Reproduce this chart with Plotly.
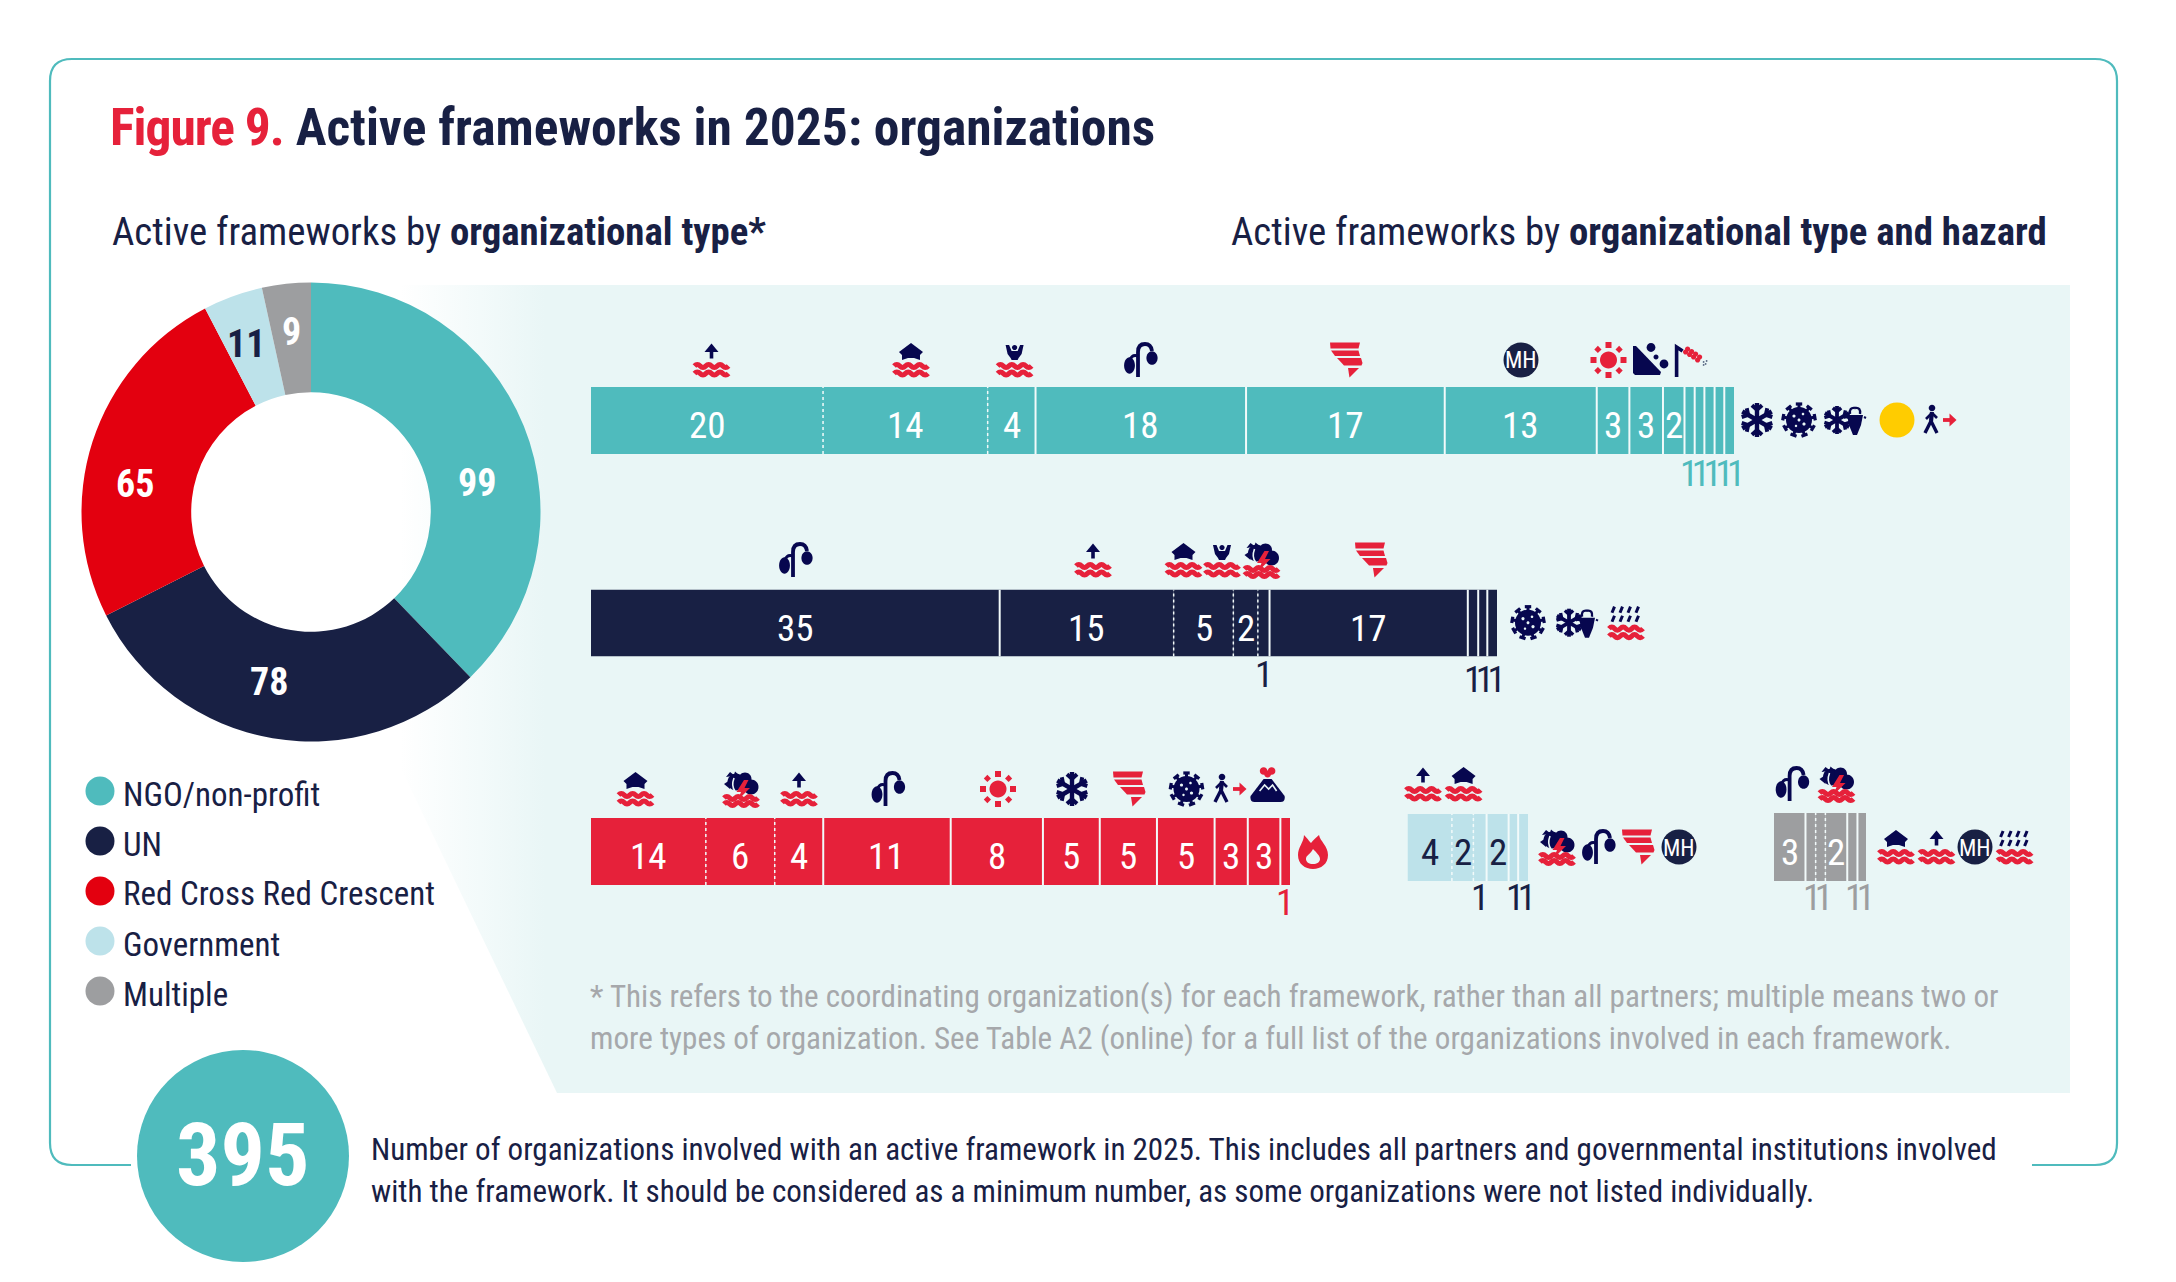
import base64, math, re
import plotly.graph_objects as go

# ---------- data ----------
org_types = ["NGO/non-profit", "UN", "Red Cross Red Crescent", "Government", "Multiple"]
org_counts = [99, 78, 65, 11, 9]
total_orgs = "395"

# numbers printed on the segments
ngo_values = [20, 14, 4, 18, 17, 13, 3, 3, 2, 1, 1, 1, 1, 1]
un_values = [35, 15, 5, 2, 1, 17, 1, 1, 1]
rc_values = [14, 6, 4, 11, 8, 5, 5, 5, 3, 3, 1]
gov_values = [4, 2, 1, 2, 1, 1]
mult_values = [3, 1, 1, 2, 1, 1]

# drawn lengths of the segments
ngo_lengths = [19.83, 14.07, 4.09, 17.99, 16.98, 12.99, 2.79, 2.87, 1.84, 0.87, 0.83, 0.87, 0.83, 0.83]
un_lengths = [35.0, 14.9, 5.11, 2.1, 1.0, 16.98, 0.89, 0.78, 0.83]
rc_lengths = [9.9, 5.94, 4.18, 10.99, 7.95, 4.9, 4.93, 4.97, 2.86, 2.81, 0.83]
gov_lengths = [3.83, 1.85, 1.14, 1.9, 0.82, 0.85]
mult_lengths = [2.72, 0.88, 0.84, 1.89, 0.88, 0.74]

# ---------- style / layout ----------
W, H = 2176, 1282
FONT = "Roboto Condensed, Roboto, sans-serif"
TEAL, NAVY, RED, PIE_RED, LBLUE, GREY = "#4FBBBD", "#182044", "#E6213A", "#E3000F", "#BDE2EA", "#9D9EA0"
ICON = "#07074F"
PANEL = "#E9F6F6"
pie_colors = [TEAL, NAVY, PIE_RED, LBLUE, GREY]


def px(x):
    return x / W


def py(y):
    return 1 - y / H


S, D = "solid", "dot"
rows = [
    dict(val=ngo_values, seg=ngo_lengths, col=TEAL, tc="white", l=591, r=1734, t=387, b=454,
         sep=[D, D, S, S, S, S, S, S, S, S, S, S, S],
         below=[("11111", 9, 14, 473, TEAL)]),
    dict(val=un_values, seg=un_lengths, col=NAVY, tc="white", l=591, r=1497, t=589.5, b=656.5,
         sep=[S, D, D, D, S, S, S, S],
         below=[("1", 4, 5, 674, NAVY), ("111", 6, 9, 679, NAVY)]),
    dict(val=rc_values, seg=rc_lengths, col=RED, tc="white", l=591, r=1290, t=818, b=885,
         sep=[D, D, S, S, S, S, S, S, S, S],
         below=[("1", 10, 11, 902, RED)]),
    dict(val=gov_values, seg=gov_lengths, col=LBLUE, tc=NAVY, l=1407.5, r=1528, t=814, b=881,
         sep=[D, D, S, S, S],
         below=[("1", 2, 3, 897, NAVY), ("11", 4, 6, 897, NAVY)]),
    dict(val=mult_values, seg=mult_lengths, col=GREY, tc="white", l=1774, r=1866, t=813, b=881,
         sep=[S, D, D, S, S],
         below=[("11", 1, 3, 897, GREY), ("11", 4, 6, 897, GREY)]),
]

fig = go.Figure()
layout_axes = {}
shapes, annos = [], []


def note(x, y, text, size, color=NAVY, xanchor="left"):
    annos.append(dict(x=px(x), y=py(y), xref="paper", yref="paper", text=text, showarrow=False,
                      xanchor=xanchor, yanchor="middle", borderpad=0, borderwidth=0,
                      font=dict(family=FONT, size=size, color=color)))


# donut
fig.add_trace(go.Pie(values=org_counts, labels=org_types, sort=False, direction="clockwise", rotation=0,
                     hole=0.522, textinfo="none", showlegend=False, marker=dict(colors=pie_colors),
                     domain=dict(x=[px(81.5), px(540.5)], y=[py(741.5), py(282.5)])))

# stacked rows, each on its own scale
for i, r in enumerate(rows, start=1):
    total = sum(r["seg"])
    cum = [sum(r["seg"][:k]) for k in range(len(r["seg"]) + 1)]
    sfx = "" if i == 1 else str(i)
    layout_axes[f"xaxis{sfx}"] = dict(domain=[px(r["l"]), px(r["r"])], range=[0, total], visible=False,
                                      fixedrange=True, anchor=f"y{sfx}")
    layout_axes[f"yaxis{sfx}"] = dict(domain=[py(r["b"]), py(r["t"])], range=[-0.5, 0.5], visible=False,
                                      fixedrange=True, anchor=f"x{sfx}")
    fig.add_trace(go.Bar(x=r["seg"], base=cum[:-1], y=[0] * len(r["seg"]), orientation="h", width=1,
                         xaxis=f"x{sfx}", yaxis=f"y{sfx}", customdata=r["val"],
                         marker=dict(color=r["col"], line=dict(width=0)), showlegend=False))
    ymid = (r["t"] + r["b"]) / 2 + 5
    for k, v in enumerate(r["val"]):
        if v >= 2:
            annos.append(dict(x=(cum[k] + cum[k + 1]) / 2, y=py(ymid), xref=f"x{sfx}", yref="paper", text=str(v),
                              showarrow=False, xanchor="center", yanchor="middle", borderpad=0,
                              font=dict(family=FONT, size=37, color=r["tc"])))
    for k, kind in enumerate(r["sep"], start=1):
        shapes.append(dict(type="line", xref=f"x{sfx}", yref=f"y{sfx}", x0=cum[k], x1=cum[k], y0=-0.5, y1=0.5,
                           line=dict(color="#F2FAFA", width=2 if kind == S else 1.5, dash=kind), layer="above"))
    for txt, a, b, y, c in r["below"]:
        label = txt if len(txt) == 1 else f'<span style="letter-spacing:-6.5px">{txt}</span>'
        annos.append(dict(x=(cum[a] + cum[b]) / 2, y=py(y), xref=f"x{sfx}", yref="paper", text=label, showarrow=False,
                          xanchor="center", yanchor="middle", borderpad=0,
                          font=dict(family=FONT, size=37, color=c)))

# ---------- decoration: panel + frame ----------
svg = (f'<svg xmlns="http://www.w3.org/2000/svg" width="{W}" height="{H}" viewBox="0 0 {W} {H}">'
       f'<defs><linearGradient id="g" gradientUnits="userSpaceOnUse" x1="400" y1="0" x2="545" y2="0">'
       f'<stop offset="0" stop-color="{PANEL}" stop-opacity="0"/><stop offset="1" stop-color="{PANEL}"/>'
       f'</linearGradient></defs><polygon points="380,285 2070,285 2070,1093 557,1093 380,725" fill="url(#g)"/></svg>')
images = [dict(source="data:image/svg+xml;base64," + base64.b64encode(svg.encode()).decode(),
               xref="paper", yref="paper", x=0, y=1, sizex=1, sizey=1, xanchor="left", yanchor="top",
               sizing="stretch", layer="below")]

NUM = re.compile(r"-?\d+\.?\d*")


def to_paper(path, cx=0.0, cy=0.0, scale=1.0):
    n = [0]

    def sub(m):
        v = float(m.group())
        idx = n[0]
        n[0] += 1
        if idx % 2 == 0:
            return f"{px(cx + v * scale):.5f}"
        return f"{py(cy + v * scale):.5f}"

    return NUM.sub(sub, path)


frame = "M131,1165 L72,1165 Q50,1165 50,1143 L50,81 Q50,59 72,59 L2095,59 Q2117,59 2117,81 L2117,1143 Q2117,1165 2095,1165 L2032,1165"
shapes.append(dict(type="path", xref="paper", yref="paper", path=to_paper(frame), line=dict(color=TEAL, width=2.2),
                   fillcolor="rgba(0,0,0,0)", layer="below"))


def circ(cx, cy, r):
    k = 0.5523 * r
    return (f"M{cx - r},{cy} C{cx - r},{cy - k} {cx - k},{cy - r} {cx},{cy - r} C{cx + k},{cy - r} {cx + r},{cy - k} {cx + r},{cy} "
            f"C{cx + r},{cy + k} {cx + k},{cy + r} {cx},{cy + r} C{cx - k},{cy + r} {cx - r},{cy + k} {cx - r},{cy} Z")


def ell(cx, cy, rx, ry):
    k = 0.5523
    return (f"M{cx - rx},{cy} C{cx - rx},{cy - k * ry} {cx - k * rx},{cy - ry} {cx},{cy - ry} C{cx + k * rx},{cy - ry} {cx + rx},{cy - k * ry} {cx + rx},{cy} "
            f"C{cx + rx},{cy + k * ry} {cx + k * rx},{cy + ry} {cx},{cy + ry} C{cx - k * rx},{cy + ry} {cx - rx},{cy + k * ry} {cx - rx},{cy} Z")


def fill(path, color=ICON):
    return dict(path=path, fill=color, line=None, lw=0)


def stroke(path, color=ICON, lw=3):
    return dict(path=path, fill=None, line=color, lw=lw)


def wave(y):
    return stroke(f"M-17,{y} Q-14.2,{y - 3.2} -11.3,{y} Q-8.5,{y + 3.2} -5.7,{y} Q-2.8,{y - 3.2} 0,{y} "
                  f"Q2.8,{y + 3.2} 5.7,{y} Q8.5,{y - 3.2} 11.3,{y} Q14.2,{y + 3.2} 17,{y}", RED, 5)


def waves():
    return [wave(6), wave(13.5)]


def flake(cx, cy, R, lw):
    out = []
    for a in (90, 30, 150):
        ca, sa = math.cos(math.radians(a)), math.sin(math.radians(a))
        out.append(stroke(f"M{cx - R * ca:.2f},{cy - R * sa:.2f} L{cx + R * ca:.2f},{cy + R * sa:.2f}", ICON, lw))
    for a in range(0, 360, 60):
        ca, sa = math.cos(math.radians(a + 90)), math.sin(math.radians(a + 90))
        mx, my = cx + 0.6 * R * ca, cy + 0.6 * R * sa
        for d in (-48, 48):
            c2, s2 = math.cos(math.radians(a + 90 + d)), math.sin(math.radians(a + 90 + d))
            out.append(stroke(f"M{mx:.2f},{my:.2f} L{mx + 0.4 * R * c2:.2f},{my + 0.4 * R * s2:.2f}", ICON, lw * 0.9))
    return out


def virus():
    out = [fill(circ(0, 0, 13))]
    for a in range(0, 360, 40):
        ca, sa = math.cos(math.radians(a - 90)), math.sin(math.radians(a - 90))
        out.append(stroke(f"M{11 * ca:.2f},{11 * sa:.2f} L{15.5 * ca:.2f},{15.5 * sa:.2f}", ICON, 3))
        out.append(stroke(f"M{16 * ca - 3.2 * sa:.2f},{16 * sa + 3.2 * ca:.2f} L{16 * ca + 3.2 * sa:.2f},{16 * sa - 3.2 * ca:.2f}", ICON, 3.2))
    for dx, dy, rr in [(-5, -4, 1.6), (4, -6, 1.3), (5, 4, 1.6), (-3, 6, 1.2), (0, 0, 1.5)]:
        out.append(fill(circ(dx, dy, rr), PANEL))
    return out


def flood_arrow():
    return [stroke("M0,-1.5 L0,-10", ICON, 3.6), fill("M-7,-8 L0,-16.5 L7,-8 Z")] + waves()


def flood_house():
    return [fill("M0,-17 L12,-8 L9,-5 L9,0 L3,-2 L-3,-2 L-9,0 L-9,-5 L-12,-8 Z")] + waves()


def flood_person():
    return [fill("M-9,-15 L-5.5,-15 L-3,-9 L3,-9 L5.5,-15 L9,-15 L7,-6 L4,-2 L3,0 L-3,0 L-4,-2 L-7,-6 Z"),
            fill(circ(0, -12.5, 2.6))] + waves()


def flood_storm():
    return [fill(circ(-5, -7, 8.5)), fill(circ(4, -10, 6.5)), fill(circ(10, -2, 7.5)),
            fill("M-15,-12 L-11,-17 L-7,-14 L-6,-17.5 L-2,-14 Z"),
            fill("M-17,-5 L-11,-9 L-11,0 Z"),
            stroke("M-7,-11 Q-10,-3 -6,2", PANEL, 1.6),
            wave(9), wave(15),
            fill("M3,-9 L-4.5,3 L0,3 L-3,11 L9,-1 L3.5,-1 L7.5,-9 Z", RED)]


def plant():
    return [stroke("M-2,17 L-2,-8 Q-2,-16 5,-16 Q11,-16 12,-9", ICON, 3.8),
            stroke("M-2,-4 Q-8,-6 -10,0", ICON, 3),
            fill(ell(-10.5, 5.5, 5.4, 8.2)), fill(ell(12, -2, 5.6, 6.8))]


def tornado():
    return [fill("M-16,-17.5 L14,-17.5 L12.5,-11.5 L-15.5,-11.5 Z", RED),
            fill("M-15,-9.5 L12.5,-9.5 L14,-4 L-11,-4 Z", RED),
            fill("M-9,-2 L15,-2 L16.5,3 L15.5,5.5 L-2,5.5 Z", RED),
            fill("M2,8 L13,8 L3.5,17.5 Z", RED)]


def mh():
    return [fill(circ(0, 0, 17.5), NAVY)]


def sun():
    out = [fill(circ(0, 0, 8.5), RED)]
    for a in range(0, 360, 45):
        ca, sa = math.cos(math.radians(a)), math.sin(math.radians(a))
        x, y = 15 * ca, 15 * sa
        s = 3
        if a % 90 == 0:
            out.append(fill(f"M{x - s:.2f},{y - s:.2f} L{x + s:.2f},{y - s:.2f} L{x + s:.2f},{y + s:.2f} L{x - s:.2f},{y + s:.2f} Z", RED))
        else:
            out.append(fill(f"M{x:.2f},{y - 3.6:.2f} L{x + 3.6:.2f},{y:.2f} L{x:.2f},{y + 3.6:.2f} L{x - 3.6:.2f},{y:.2f} Z", RED))
    return out


def landslide():
    return [fill("M-17,-14 L-14,-14 L11,12 L10,15 L-15,15 L-17,13 Z"),
            fill(circ(1, -12.5, 4.4)), fill(circ(14, 4, 4.4)), fill(circ(6, -3, 2.5))]


def locust():
    out = [stroke("M-15,17 L-15,-13 L-9,-9", ICON, 3.6)]
    for dx, dy in [(-6, -8), (-2, -5.5), (2, -3), (6, 0), (-4, -11), (0, -8.5), (4, -6), (8, -3)]:
        out.append(fill(circ(dx, dy, 2.6), RED))
    for dx, dy in [(12, 2), (14, 4), (12, 5), (15, 1)]:
        out.append(fill(circ(dx, dy, 0.9), "#5B6A86"))
    return out


def goat():
    return flake(-9, 0, 14, 3.8) + [
        fill("M1,-5 L17,-5 L15,5 L11,15 L7,15 L3,5 Z"),
        stroke("M4,-6 Q3,-13 9,-12", ICON, 2.4), stroke("M14,-6 Q15,-13 9,-12", ICON, 2.4),
        stroke("M0,-3 L-2,-2", ICON, 2), stroke("M18,-3 L20,-2", ICON, 2)]


def sunball():
    return [fill(circ(0, 0, 17.5), "#FFCC00")]


def walker():
    return [fill(circ(-7, -12, 3.3)),
            stroke("M-7,-8 L-8,1", ICON, 4.2), stroke("M-8,1 L-14,13", ICON, 3.4), stroke("M-8,1 L-2,13", ICON, 3.4),
            stroke("M-7,-7 L-13,-1", ICON, 2.6), stroke("M-7,-7 L-2,-2", ICON, 2.6),
            stroke("M4,0 L12,0", RED, 3.8), fill("M10.5,-6.5 L17.5,0 L10.5,6.5 Z", RED)]


def rain():
    out = []
    for y in (-13, -4):
        for x in (-13, -5, 3, 11):
            out.append(stroke(f"M{x - 1},{y + 3} L{x + 1.5},{y - 3}", ICON, 3))
    return out + waves()


def volcano():
    return [fill(circ(-4, -14, 3.8), RED), fill(circ(4, -14, 3.8), RED), fill(circ(0, -11, 3.5), RED),
            fill("M-4,-6 L4,-6 L17,11 Q18,17 13,17 L-13,17 Q-18,17 -17,11 Z"),
            stroke("M-8,6 L-3,0 L1,4 L5,0 L9,6", PANEL, 1.6)]


def fire():
    return [fill("M-9,-17 C-5,-13 -4,-11 -2,-9 C0,-12 3,-14 6,-17 C7,-11 15,-6 15,3 C15,12 8,17 0,17 C-8,17 -15,12 -15,3 C-15,-5 -9,-10 -9,-17 Z", RED),
            fill("M0,-3 C4,1 7,4 7,7 C7,10 4,12 0,12 C-4,12 -7,10 -7,7 C-7,3 -3,3 0,-3 Z", PANEL)]


ICONS = dict(arrow=flood_arrow, house=flood_house, person=flood_person, storm=flood_storm, plant=plant, tornado=tornado,
             mh=mh, sun=sun, slide=landslide, locust=locust, snow=lambda: flake(0, 0, 17, 4.4), virus=virus, goat=goat,
             ball=sunball, walker=walker, rain=rain, volcano=volcano, fire=fire)

icon_places = [
    ("arrow", 711.5, 360), ("house", 911, 360), ("person", 1014.6, 360), ("plant", 1140, 360), ("tornado", 1346, 360),
    ("mh", 1521, 360), ("sun", 1608.5, 360), ("slide", 1650, 360), ("locust", 1691.6, 360),
    ("snow", 1757, 420), ("virus", 1799, 420), ("goat", 1846, 420), ("ball", 1897, 420), ("walker", 1939, 420),
    ("plant", 795, 560), ("arrow", 1093, 560), ("house", 1183.5, 560), ("person", 1222, 560), ("storm", 1261.5, 560),
    ("tornado", 1371, 560), ("virus", 1528, 622.7), ("goat", 1578, 622.7), ("rain", 1626, 622.7),
    ("house", 635.5, 789), ("storm", 741, 789), ("arrow", 799, 789), ("plant", 887.5, 789), ("sun", 998, 789),
    ("snow", 1072, 789), ("tornado", 1129, 789), ("virus", 1186.5, 789), ("walker", 1229, 789), ("volcano", 1267.6, 785),
    ("fire", 1313, 852),
    ("arrow", 1423, 784), ("house", 1463.6, 784),
    ("storm", 1557, 847), ("plant", 1598, 847), ("tornado", 1638, 847), ("mh", 1679, 847),
    ("plant", 1791.6, 784), ("storm", 1836.5, 784),
    ("house", 1896, 847), ("arrow", 1936.5, 847), ("mh", 1975, 847), ("rain", 2014.6, 847),
]

for name, cx, cy in icon_places:
    for part in ICONS[name]():
        shapes.append(dict(type="path", xref="paper", yref="paper", path=to_paper(part["path"], cx, cy),
                           fillcolor=part["fill"] or "rgba(0,0,0,0)",
                           line=dict(color=part["line"] or "rgba(0,0,0,0)", width=part["lw"]), layer="above"))
    if name == "mh":
        note(cx, cy + 1, "MH", 23, "white", xanchor="center")

# legend
legend_y = [791, 841, 891, 941, 991]
for name, c, y in zip(org_types, pie_colors, legend_y):
    shapes.append(dict(type="circle", xref="paper", yref="paper", x0=px(85.5), x1=px(114.5), y0=py(y + 14.5), y1=py(y - 14.5),
                       fillcolor=c, line=dict(width=0), layer="below"))
    note(122.5, y + 3, name, 33)

# big number circle
shapes.append(dict(type="circle", xref="paper", yref="paper", x0=px(137), x1=px(349), y0=py(1262), y1=py(1050),
                   fillcolor=TEAL, line=dict(width=0), layer="below"))
note(242.5, 1154, f"<b>{total_orgs}</b>", 88, "white", xanchor="center")

# donut labels
pie_label_pos = [(477, 483), (268.5, 682), (135, 484), (246, 344), (291, 332)]
pie_label_col = ["white", "white", "white", NAVY, "white"]
for v, (x, y), c in zip(org_counts, pie_label_pos, pie_label_col):
    note(x, y, f"<b>{v}</b>", 38, c, xanchor="center")

# titles and notes
note(110, 127, f'<span style="color:{RED};letter-spacing:-1px"><b>Figure 9.</b></span> <b>Active frameworks in 2025: organizations</b>', 51.5)
note(112, 232, "Active frameworks by <b>organizational type*</b>", 38.8)
note(2047, 232, "Active frameworks by <b>organizational type and hazard</b>", 38.8, xanchor="right")
note(590, 996, "* This refers to the coordinating organization(s) for each framework, rather than all partners; multiple means two or", 31.1, "#A6A8AB")
note(590, 1038, "more types of organization. See Table A2 (online) for a full list of the organizations involved in each framework.", 31.1, "#A6A8AB")
note(371, 1149, "Number of organizations involved with an active framework in 2025. This includes all partners and governmental institutions involved", 31.05)
note(371, 1191, "with the framework. It should be considered as a minimum number, as some organizations were not listed individually.", 31.05)

fig.update_layout(width=W, height=H, margin=dict(l=0, r=0, t=0, b=0, pad=0), paper_bgcolor="white",
                  plot_bgcolor="rgba(0,0,0,0)", showlegend=False, shapes=shapes, annotations=annos, images=images,
                  **layout_axes)
fig.write_html("out.html", config={"displayModeBar": False},
               post_script="document.body.style.margin='0';document.documentElement.style.overflow='hidden';")
